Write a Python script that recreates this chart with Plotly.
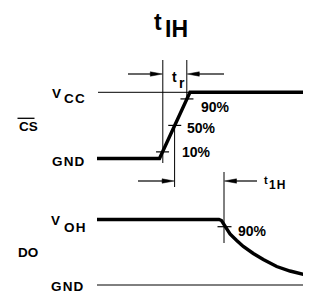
import plotly.graph_objects as go

# ---- data (diagram units: time -> x, level -> y, both in drawing units) ----
# Levels
Y_VCC = 92.3
Y_CS_GND = 158.5
Y_VOH = 219.5
Y_DO_GND = 285.0

# /CS waveform
CS_T = [97, 159.5, 190, 311]
CS_Y = [Y_CS_GND, Y_CS_GND, Y_VCC, Y_VCC]
CS_MARKS = [0.10, 0.50, 0.90]

# DO waveform
DO_T = [97, 219, 221.5, 223.5, 225, 230, 236.7, 243.3, 253.3, 263.3, 276.7, 290, 303.3, 311]
DO_Y = [219.5, 219.5, 220.5, 223.5, 227, 234, 240.5, 246.5, 253.5, 259.5, 266.5, 271, 274.3, 276]
DO_MARK_T = 224.5
DO_MARK_Y = 226.7

# reference timing lines: (x, y0, y1)
VLINES = [(162.8, 60, 163), (186.8, 60, 99), (174.6, 125, 187), (224.0, 172, 243)]
# arrows: (tail_x, head_x, y)
ARROWS = [(128, 162.3, 74), (224, 187.3, 74), (138, 174.1, 181), (257, 224.5, 181)]

FONT = "Liberation Sans, Arial, sans-serif"
BLACK = "#000000"
HS = "\u200a"  # hair space for letter spacing

fig = go.Figure()

def line(xs, ys, w):
    fig.add_trace(go.Scatter(x=xs, y=ys, mode="lines",
                             line=dict(color=BLACK, width=w), hoverinfo="skip",
                             showlegend=False))

# thin reference lines
line([98, CS_T[2]], [Y_VCC, Y_VCC], 1)
line([97, 311], [Y_DO_GND, Y_DO_GND], 1)
for x, y0, y1 in VLINES:
    line([x, x], [y0, y1], 1)

# ticks on CS edge
xb, xt = CS_T[1], CS_T[2]
for f in CS_MARKS:
    xm = xb + f * (xt - xb)
    ym = Y_CS_GND + f * (Y_VCC - Y_CS_GND)
    line([xm - 6.5, xm + 6.5], [ym, ym], 1.2)
line([DO_MARK_T - 7, DO_MARK_T + 7], [DO_MARK_Y, DO_MARK_Y], 1.2)

# signals
line(CS_T, CS_Y, 3.4)
line(DO_T, DO_Y, 3.4)

# arrows: shaft + narrow filled head
HL, HW = 12, 2.2
for tx, hx, y in ARROWS:
    d = 1 if hx > tx else -1
    line([tx, hx - d * HL * 0.6], [y, y], 1.2)
    fig.add_trace(go.Scatter(x=[hx, hx - d * HL, hx - d * HL, hx],
                             y=[y, y - HW, y + HW, y], mode="lines",
                             fill="toself", fillcolor=BLACK,
                             line=dict(color=BLACK, width=0.5),
                             hoverinfo="skip", showlegend=False))

anns = []
def txt(s, x, y, size, anchor="left"):
    anns.append(dict(text=s, x=x, y=y, xref="x", yref="y", showarrow=False,
                     xanchor=anchor, yanchor="middle", borderpad=0,
                     font=dict(family=FONT, size=size, color=BLACK, weight="bold")))

# title t_IH
txt("t", 153, 21.5, 23)
txt("IH", 164, 29, 23)
# CS labels
txt("V", 51, 93, 13.5)
txt("C" + HS + "C", 62.5, 98.5, 13.5)
txt("G" + HS + "N" + HS + "D", 50.5, 161, 13.5)
txt("CS", 17.5, 126, 13.5)
# DO labels
txt("V", 50, 220, 13.5)
txt("O" + HS + "H", 62.5, 227, 13.5)
txt("G" + HS + "N" + HS + "D", 50, 286, 13.5)
txt("DO", 16.5, 252.5, 13.5)
# percents
txt("90%", 199.5, 106.5, 14)
txt("50%", 185.5, 127.5, 14)
txt("10%", 180.5, 151.5, 14)
txt("90%", 236.5, 230.5, 14)
# t_r
txt("t", 171, 77, 14)
txt("r", 177.5, 83, 14)
# t1H
txt("t", 262.5, 180, 11)
txt("1" + HS + "H", 268, 184.5, 12)

fig.add_shape(type="line", x0=17.5, x1=34.5, y0=118.3, y1=118.3, xref="x", yref="y",
              line=dict(color=BLACK, width=1.3))

# The page body has an 8px margin, so the figure starts at (8, 8) on screen;
# axes are set so that drawing units equal screen pixels.
fig.update_layout(
    width=303, height=286, margin=dict(l=0, r=0, t=0, b=0),
    paper_bgcolor="white", plot_bgcolor="white",
    xaxis=dict(range=[8, 311], visible=False, fixedrange=True),
    yaxis=dict(range=[294, 8], visible=False, fixedrange=True),
    annotations=anns, showlegend=False,
)
fig.write_html("out.html")
